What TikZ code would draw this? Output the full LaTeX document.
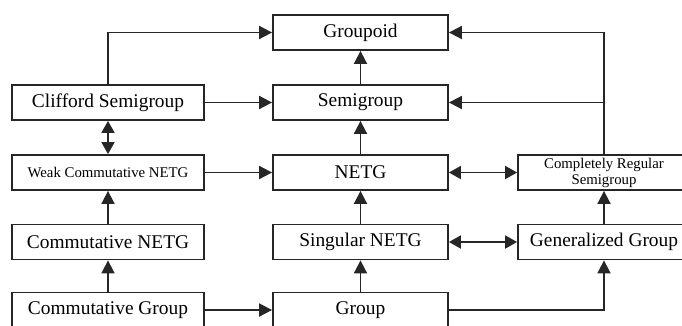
\documentclass[tikz,border=0pt]{standalone}
\usepackage{fontspec}
\setmainfont{Liberation Serif}
\usetikzlibrary{arrows.meta,positioning}

\begin{document}
\begin{tikzpicture}[
    x=1pt, y=-1pt,
    box/.style={draw=black!85, rectangle, line width=1.8pt, fill=white, align=center, inner sep=0pt, minimum height=35pt, font=\fontsize{19.4}{22}\selectfont},
    lbox/.style={box, minimum width=192pt},
    mbox/.style={box, minimum width=175pt},
    rbox/.style={box, minimum width=172pt},
    small/.style={font=\fontsize{14.8}{16}\selectfont},
    link/.style={-{Triangle[length=13pt,width=13pt]}, line width=1.8pt, draw=black!85},
    both/.style={{Triangle[length=12pt,width=13pt]}-{Triangle[length=12pt,width=13pt]}, line width=1.8pt, draw=black!85}
]
    \useasboundingbox (0,0) rectangle (682,325);

    % Left column
    \node[lbox] (clifford) at (108,102.5) {Clifford Semigroup};
    \node[lbox, small] (weakcomm) at (108,172.5) {Weak Commutative NETG};
    \node[lbox] (commnetg) at (108,242) {Commutative NETG};
    \node[lbox] (commgroup) at (108,310) {Commutative Group};

    % Middle column
    \node[mbox] (groupoid) at (360.5,32.5) {Groupoid};
    \node[mbox] (semigroup) at (360.5,102.5) {Semigroup};
    \node[mbox] (netg) at (360.5,172.5) {NETG};
    \node[mbox] (singnetg) at (360.5,242) {Singular NETG};
    \node[mbox] (group) at (360.5,310) {Group};

    % Right column
    \node[rbox, small] (compreg) at (604,172.5) {Completely Regular\\Semigroup};
    \node[rbox] (gengroup) at (604,242) {Generalized Group};

    % Connectors
    \draw[link] (clifford.north) |- (groupoid.west);
    \draw[link] (clifford) -- (semigroup);
    \draw[both] (clifford) -- (weakcomm);
    \draw[link] (weakcomm) -- (netg);
    \draw[link] (commnetg) -- (weakcomm);
    \draw[link] (commgroup) -- (commnetg);
    \draw[link] (commgroup) -- (group);

    \draw[link] (semigroup) -- (groupoid);
    \draw[link] (netg) -- (semigroup);
    \draw[link] (singnetg) -- (netg);
    \draw[link] (group) -- (singnetg);

    \draw[both] (netg) -- (compreg);
    \draw[both] (singnetg) -- (gengroup);
    \draw[link] (gengroup) -- (compreg);
    \draw[link] (group.east) -| (gengroup.south);
    \draw[link] (compreg.north) |- (groupoid.east);
    \draw[link] (compreg.north |- semigroup.east) -- (semigroup.east);

\end{tikzpicture}
\end{document}
